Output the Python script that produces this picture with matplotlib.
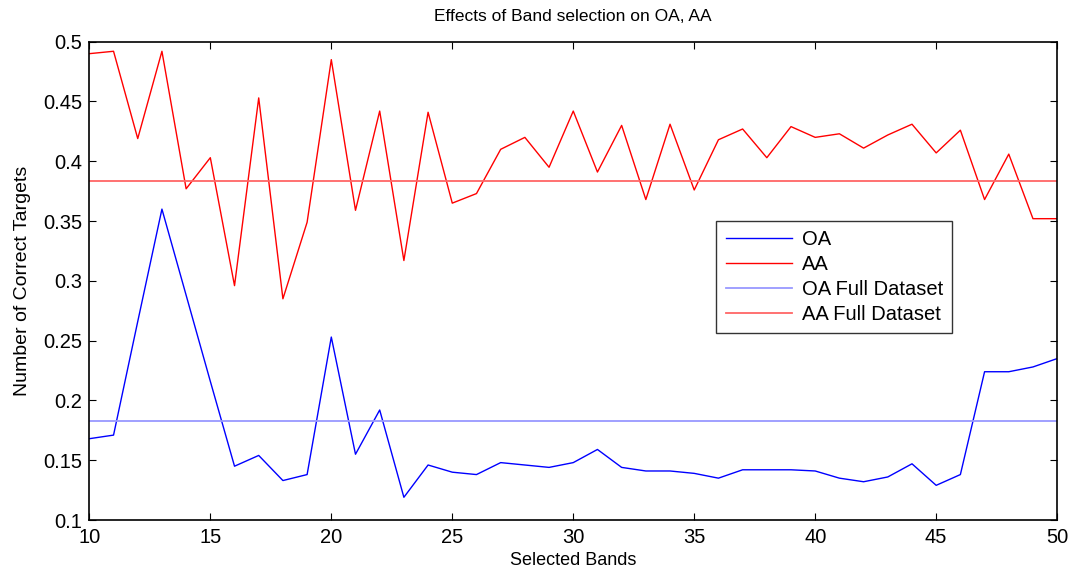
import matplotlib.pyplot as plt

# selected number of bands
bands = list(range(10, 51))

oa = [0.168, 0.171, 0.266, 0.360, 0.288, 0.216, 0.145, 0.154, 0.133, 0.138,
      0.253, 0.155, 0.192, 0.119, 0.146, 0.140, 0.138, 0.148, 0.146, 0.144,
      0.148, 0.159, 0.144, 0.141, 0.141, 0.139, 0.135, 0.142, 0.142, 0.142,
      0.141, 0.135, 0.132, 0.136, 0.147, 0.129, 0.138, 0.224, 0.224, 0.228,
      0.235]

aa = [0.490, 0.492, 0.419, 0.492, 0.377, 0.403, 0.296, 0.453, 0.285, 0.349,
      0.485, 0.359, 0.442, 0.317, 0.441, 0.365, 0.373, 0.410, 0.420, 0.395,
      0.442, 0.391, 0.430, 0.368, 0.431, 0.376, 0.418, 0.427, 0.403, 0.429,
      0.420, 0.423, 0.411, 0.422, 0.431, 0.407, 0.426, 0.368, 0.406, 0.352,
      0.352]

oa_full = 0.183
aa_full = 0.3836

plt.rcParams['font.family'] = ['Liberation Sans', 'DejaVu Sans']

fig = plt.figure(figsize=(10.7, 5.69), dpi=100)
ax = fig.add_axes([0.0835, 0.0861, 0.9045, 0.8406])

ax.plot(bands, oa, color='#0000ff', lw=1, label='OA')
ax.plot(bands, aa, color='#ff0000', lw=1, label='AA')
ax.axhline(oa_full, color='#9999ff', lw=1.3, label='OA Full Dataset')
ax.axhline(aa_full, color='#ff6666', lw=1.3, label='AA Full Dataset')

ax.set_xlim(10, 50)
ax.set_ylim(0.1, 0.5)
ax.set_xticks(range(10, 51, 5))
ax.set_yticks([0.1, 0.15, 0.2, 0.25, 0.3, 0.35, 0.4, 0.45, 0.5])
ax.set_yticklabels(['0.1', '0.15', '0.2', '0.25', '0.3', '0.35', '0.4', '0.45', '0.5'])
ax.tick_params(direction='in', top=True, right=True, labelsize=14.5, length=5, width=0.8)
ax.tick_params(axis='x', pad=6)
ax.tick_params(axis='y', pad=5)
for s in ax.spines.values():
    s.set_linewidth(1.2)

ax.set_title('Effects of Band selection on OA, AA', fontsize=12.5, pad=15)
ax.set_xlabel('Selected Bands', fontsize=13, labelpad=3)
ax.set_ylabel('Number of Correct Targets', fontsize=14, labelpad=9)

leg = ax.legend(loc='upper left', bbox_to_anchor=(0.648, 0.626), borderaxespad=0,
                fontsize=14.5, frameon=True, fancybox=False, edgecolor='black',
                handlelength=3.3, handletextpad=0.5, labelspacing=0.3, borderpad=0.45)
leg.get_frame().set_linewidth(1.0)

fig.savefig('out.png', dpi=100)
